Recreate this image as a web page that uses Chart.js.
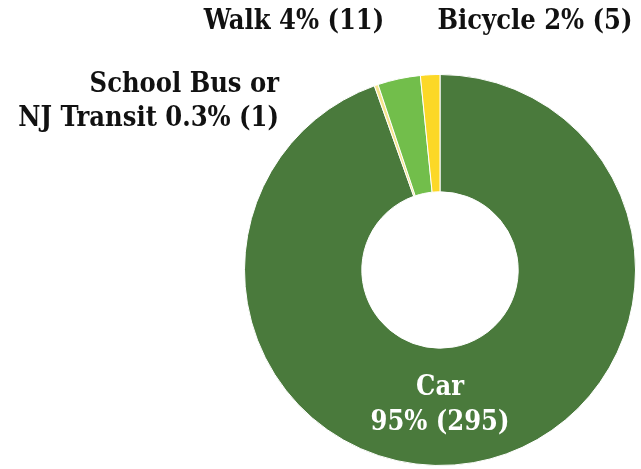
<!DOCTYPE html>
<html>
<head>
<meta charset="utf-8">
<script src="https://cdn.jsdelivr.net/npm/chart.js@4"></script>
<style>
  html, body { margin: 0; padding: 0; background: #fff; }
  #wrap { width: 641px; height: 469px; }
</style>
</head>
<body>
<div id="wrap"><canvas id="modeChart"></canvas></div>
<script>
// travel mode data
const modes = ['Car', 'School Bus or NJ Transit', 'Walk', 'Bicycle'];
const counts = [295, 1, 11, 5];
const percents = ['95%', '0.3%', '4%', '2%'];
const colors = ['#4a7a3c', '#f6e48c', '#72be4b', '#fcd827'];

const FONT = 'bold 27px "DejaVu Serif Condensed"';

// draws the text labels around/inside the doughnut
const labelPlugin = {
    id: 'modeLabels',
    afterDraw(chart) {
        const arc = chart.getDatasetMeta(0).data[0];
        const cx = arc.x, cy = arc.y;
        const c = chart.ctx;
        c.save();
        c.font = FONT;
        c.textBaseline = 'alphabetic';

        // Car, inside the ring
        c.fillStyle = '#ffffff';
        c.textAlign = 'center';
        c.fillText(modes[0], cx, cy + 125);
        c.fillText(percents[0] + ' (' + counts[0] + ')', cx, cy + 160);

        // outside labels
        c.fillStyle = '#111111';
        c.fillText(modes[2] + ' ' + percents[2] + ' (' + counts[2] + ')', cx - 146, cy - 241);
        c.fillText(modes[3] + ' ' + percents[3] + ' (' + counts[3] + ')', cx + 95, cy - 241);

        c.textAlign = 'right';
        c.fillText('School Bus or', cx - 161, cy - 178);
        c.fillText('NJ Transit ' + percents[1] + ' (' + counts[1] + ')', cx - 161, cy - 144);
        c.restore();
    }
};

const ctx = document.getElementById('modeChart');
let chr = new Chart(ctx, {
    type: 'doughnut',
    data: {
        labels: modes,
        datasets: [{
            data: counts,
            backgroundColor: colors,
            borderColor: '#ffffff',
            borderWidth: 1
        }]
    },
    options: {
        responsive: true,
        maintainAspectRatio: false,
        animation: false,
        cutout: '40%',
        rotation: 0,
        layout: {
            padding: { left: 244, right: 5, top: 74, bottom: 3 }
        },
        plugins: {
            legend: { display: false },
            tooltip: { enabled: false }
        }
    },
    plugins: [labelPlugin]
});
</script>
</body>
</html>
